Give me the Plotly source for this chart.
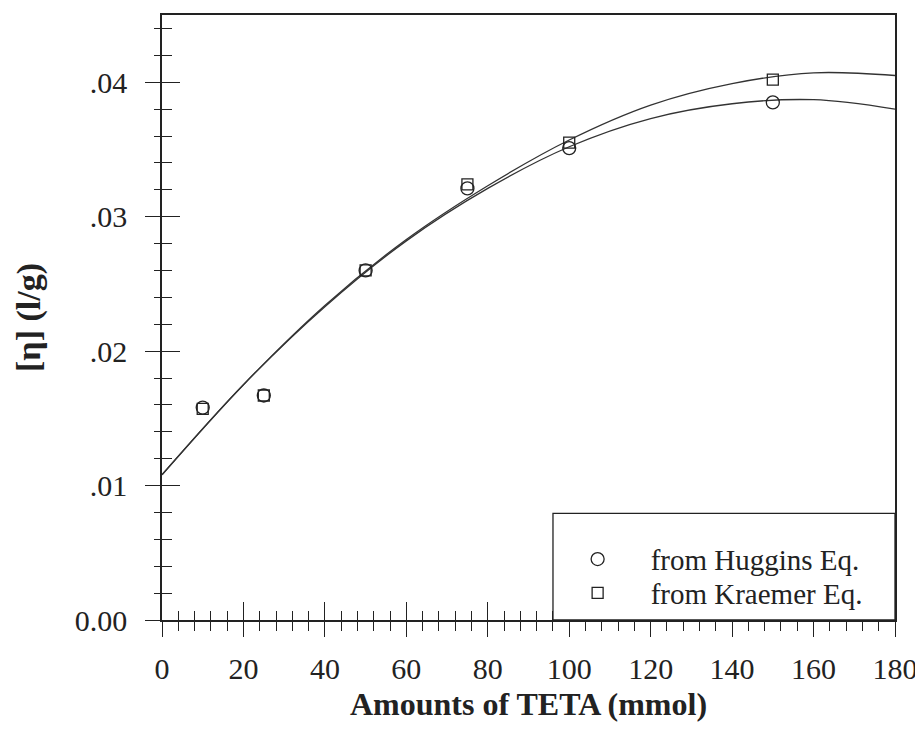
import plotly.graph_objects as go

# measured points
x_pts = [10, 25, 50, 75, 100, 150]
huggins = [0.0158, 0.0167, 0.0260, 0.0321, 0.0351, 0.0385]
kraemer = [0.0157, 0.0167, 0.0260, 0.0324, 0.0355, 0.0402]

# fitted curves
x_curve = [0, 20, 40, 60, 80, 100, 120, 140, 160, 180]
huggins_curve = [0.0108, 0.0175, 0.0233, 0.0282, 0.0321, 0.0352, 0.0373, 0.0384, 0.0387, 0.0380]
kraemer_curve = [0.0108, 0.0175, 0.0234, 0.0283, 0.0323, 0.0357, 0.0383, 0.0399, 0.0407, 0.0405]

x_ticks = [0, 20, 40, 60, 80, 100, 120, 140, 160, 180]
y_ticks = [0.0, 0.01, 0.02, 0.03, 0.04]
y_ticktext = ["0.00", ".01", ".02", ".03", ".04"]

FONT = "Liberation Serif"
LC = "#222222"

fig = go.Figure()
fig.add_trace(go.Scatter(x=x_curve, y=huggins_curve, mode="lines", line=dict(color="#333", width=1.3, shape="spline"),
                         showlegend=False, hoverinfo="skip"))
fig.add_trace(go.Scatter(x=x_curve, y=kraemer_curve, mode="lines", line=dict(color="#333", width=1.3, shape="spline"),
                         showlegend=False, hoverinfo="skip"))
fig.add_trace(go.Scatter(x=x_pts, y=huggins, mode="markers", name="from Huggins Eq.", legend="legend",
                         marker=dict(symbol="circle-open", size=13, color="#222", line=dict(width=1.3))))
fig.add_trace(go.Scatter(x=x_pts, y=kraemer, mode="markers", name="from Kraemer Eq.", legend="legend2",
                         marker=dict(symbol="square-open", size=11, color="#222", line=dict(width=1.3))))
# helper invisible trace for overlay axes
fig.add_trace(go.Scatter(x=[0], y=[0], xaxis="x2", yaxis="y2", mode="markers",
                         marker=dict(opacity=0), showlegend=False, hoverinfo="skip"))

leg_common = dict(xanchor="left", yanchor="middle", bgcolor="rgba(0,0,0,0)", borderwidth=0,
                  font=dict(family=FONT, size=29, color="#222"), itemwidth=96)

fig.update_layout(
    width=915, height=738,
    margin=dict(l=154, r=28, t=5, b=126),
    paper_bgcolor="white", plot_bgcolor="white",
    font=dict(family=FONT, size=30, color="#222"),
    showlegend=True,
    legend=dict(x=0.522, y=0.1005, **leg_common),
    legend2=dict(x=0.522, y=0.0445, **leg_common),
    shapes=[dict(type="rect", xref="paper", yref="paper", x0=0.5334, x1=1, y0=0, y1=0.1763,
                 fillcolor="white", line=dict(color=LC, width=1.3), layer="above")],
    xaxis=dict(range=[0, 180], tickvals=x_ticks, ticks="outside", ticklen=15, tickwidth=1.3,
               tickcolor=LC, showline=True, linecolor=LC, linewidth=1.5, mirror=True,
               showgrid=False, zeroline=False, ticklabelstandoff=6,
               minor=dict(dtick=4, ticks="outside", ticklen=9, tickwidth=1.2, tickcolor=LC),
               title=dict(text="<b>Amounts of TETA (mmol)</b>", font=dict(size=32), standoff=9)),
    yaxis=dict(range=[0, 0.045], tickvals=y_ticks, ticktext=y_ticktext, ticks="outside", ticklen=15,
               tickwidth=1.3, tickcolor=LC, showline=True, linecolor=LC, linewidth=1.5, mirror=True,
               showgrid=False, zeroline=False, ticklabelstandoff=12,
               minor=dict(dtick=0.002, ticks="outside", ticklen=6, tickwidth=1.2, tickcolor=LC),
               title=dict(text="<b>[η] (l/g)</b>", font=dict(size=34), standoff=24)),
    xaxis2=dict(range=[0, 180], overlaying="x", tickvals=x_ticks, ticks="inside", ticklen=18,
                tickwidth=1.3, tickcolor=LC, showticklabels=False, showgrid=False, zeroline=False,
                showline=False, side="bottom",
                minor=dict(dtick=4, ticks="inside", ticklen=9, tickwidth=1.2, tickcolor=LC)),
    yaxis2=dict(range=[0, 0.045], overlaying="y", tickvals=y_ticks, ticks="inside", ticklen=18,
                tickwidth=1.3, tickcolor=LC, showticklabels=False, showgrid=False, zeroline=False,
                showline=False, side="left",
                minor=dict(dtick=0.002, ticks="inside", ticklen=10, tickwidth=1.2, tickcolor=LC)),
)

fig.write_html("out.html")
